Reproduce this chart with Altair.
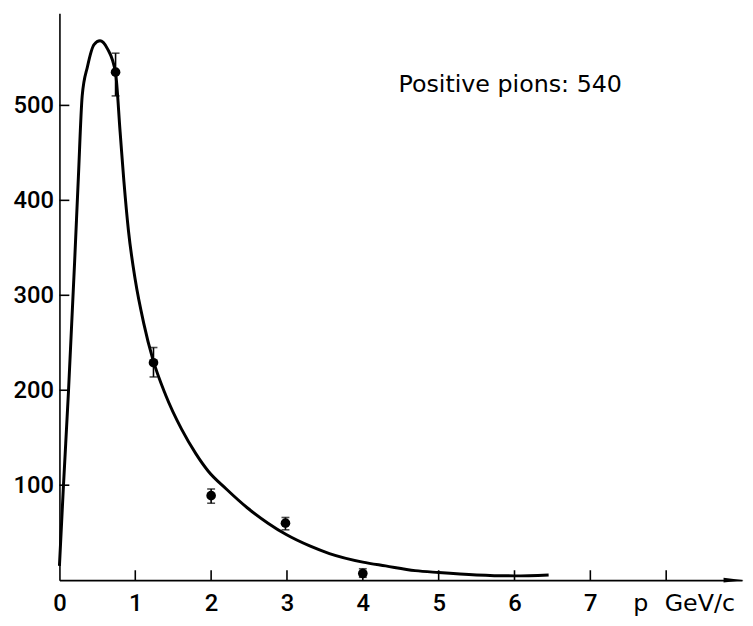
import altair as alt
import pandas as pd

# Fitted curve (p in GeV/c, counts)
curve_p = [0.0, 0.05, 0.12, 0.20, 0.25, 0.30, 0.37, 0.456, 0.535, 0.63, 0.74,
           0.80, 0.85, 0.91, 1.0, 1.11, 1.23, 1.40, 1.61, 1.80, 1.96, 2.20, 2.48, 2.75, 2.99, 3.30,
           3.56, 4.0, 4.3, 4.69, 5.0, 5.5, 6.0, 6.45]
curve_n = [15, 95, 200, 335, 425, 510, 541, 564, 568, 560, 534,
           472, 420, 368, 316, 271, 233, 195, 159, 133, 115, 96, 76, 60, 48, 36,
           28, 19, 15, 10, 8, 5.5, 4.5, 5.5]

# Measured points with error bars
pt_p = [0.74, 1.24, 2.0, 2.98, 4.0]
pt_n = [535, 229, 89, 60, 7]
pt_lo = [510, 214, 81, 53, 3]
pt_hi = [555, 245, 96, 66, 12]

y_ticks = [100, 200, 300, 400, 500]
x_labels = [0, 1, 2, 3, 4, 5, 6, 7]
x_ticks = [1, 2, 3, 4, 5, 6, 7, 8]

W, H = 690, 573
FONT = "Roboto"
TFONT = "DejaVu Sans"
X_DOM = [0, 9]
Y_DOM = [0, 597]

curve_df = pd.DataFrame({"p": curve_p, "n": curve_n})
pts_df = pd.DataFrame({"p": pt_p, "n": pt_n, "lo": pt_lo, "hi": pt_hi})
yt_df = pd.DataFrame({"v": y_ticks})
xt_df = pd.DataFrame({"v": x_ticks})

xs = alt.Scale(domain=X_DOM, nice=False, zero=False)
ys = alt.Scale(domain=Y_DOM, nice=False, zero=False)

x_axis = alt.Axis(values=x_labels, format="d", ticks=False, grid=False, domainColor="black",
                  domainWidth=1.6, labelFontSize=24, labelFont=FONT, labelFontWeight=500,
                  labelColor="black", labelPadding=12, title=None, labelFlush=False)
y_axis = alt.Axis(values=y_ticks, format="d", ticks=False, grid=False, domainColor="black",
                  domainWidth=1.6, labelFontSize=24, labelFont=FONT, labelFontWeight=500,
                  labelColor="black", labelPadding=6, title=None)

base_axes = alt.Chart(curve_df).mark_line(opacity=0).encode(
    x=alt.X("p:Q", scale=xs, axis=x_axis),
    y=alt.Y("n:Q", scale=ys, axis=y_axis),
)

curve = alt.Chart(curve_df).mark_line(color="black", strokeWidth=3, interpolate="monotone").encode(
    x=alt.X("p:Q", scale=xs), y=alt.Y("n:Q", scale=ys)
)

ytick = alt.Chart(yt_df).mark_rule(color="black", strokeWidth=1.6).encode(
    y=alt.Y("v:Q", scale=ys), x=alt.value(0), x2=alt.value(10)
)
xtick = alt.Chart(xt_df).mark_rule(color="black", strokeWidth=1.6).encode(
    x=alt.X("v:Q", scale=xs), y=alt.value(H), y2=alt.value(H - 10)
)

err = alt.Chart(pts_df).mark_rule(color="black", strokeWidth=1.6).encode(
    x=alt.X("p:Q", scale=xs), y=alt.Y("lo:Q", scale=ys), y2="hi:Q"
)
cap_lo = alt.Chart(pts_df).mark_tick(color="black", orient="horizontal", size=8, thickness=1.6).encode(
    x=alt.X("p:Q", scale=xs), y=alt.Y("lo:Q", scale=ys)
)
cap_hi = alt.Chart(pts_df).mark_tick(color="black", orient="horizontal", size=8, thickness=1.6).encode(
    x=alt.X("p:Q", scale=xs), y=alt.Y("hi:Q", scale=ys)
)
dots = alt.Chart(pts_df).mark_point(filled=True, color="black", opacity=1, size=95, shape="circle").encode(
    x=alt.X("p:Q", scale=xs), y=alt.Y("n:Q", scale=ys)
)

arrow_df = pd.DataFrame({"p": [8.89], "n": [0]})
arrow = alt.Chart(arrow_df).mark_point(
    filled=True, color="black", opacity=1, size=420,
    shape="M-1,-0.24L1,0L-1,0.24Z"
).encode(x=alt.X("p:Q", scale=xs), y=alt.Y("n:Q", scale=ys))

ann_df = pd.DataFrame({
    "p": [4.47, 7.565, 7.98],
    "n": [521, -25, -25],
    "t": ["Positive pions: 540", "p", "GeV/c"],
})
ann = alt.Chart(ann_df).mark_text(
    align="left", baseline="middle", fontSize=24, font=TFONT, color="black"
).encode(x=alt.X("p:Q", scale=xs), y=alt.Y("n:Q", scale=ys), text="t:N")

chart = alt.layer(
    base_axes, curve, ytick, xtick, err, cap_lo, cap_hi, dots, arrow, ann
).properties(
    width=W, height=H,
    autosize=alt.AutoSizeParams(type="none"),
    padding={"left": 52, "top": 2, "right": 3, "bottom": 43},
).configure_view(stroke=None)

chart.save("out.html", embed_options={"renderer": "svg", "actions": False})
